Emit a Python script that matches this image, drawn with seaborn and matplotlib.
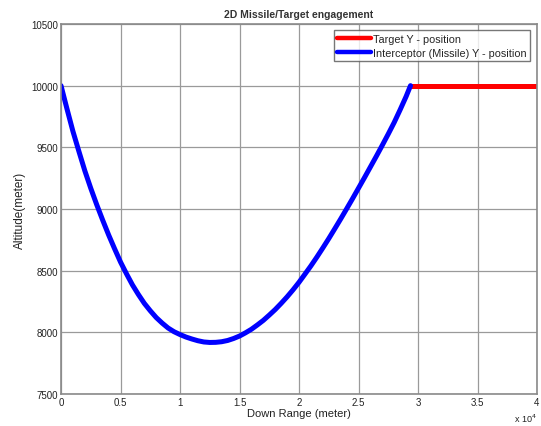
import matplotlib
matplotlib.use("Agg")
import matplotlib.pyplot as plt
import matplotlib.ticker as mticker
import seaborn as sns
import pandas as pd

# Interceptor trajectory: down range (m) and altitude (m)
missile_x = [0, 500, 1000, 1500, 2000, 2500, 3000, 3500, 4000, 4500, 5000,
             5500, 6000, 6500, 7000, 7500, 8000, 8500, 9000, 9500, 10000,
             10500, 11000, 11500, 12000, 12500, 13000, 13500, 14000, 14500,
             15000, 15500, 16000, 16500, 17000, 17500, 18000, 18500, 19000,
             19500, 20000, 20500, 21000, 21500, 22000, 22500, 23000, 23500,
             24000, 24500, 25000, 25500, 26000, 26500, 27000, 27500, 28000,
             28500, 29000, 29370]
missile_y = [10000, 9812, 9630, 9468, 9310, 9168, 9035, 8910, 8790, 8678, 8570,
             8475, 8385, 8307, 8235, 8175, 8120, 8075, 8035, 8005, 7982,
             7962, 7946, 7932, 7922, 7918, 7919, 7924, 7934, 7950,
             7970, 7996, 8025, 8060, 8097, 8140, 8185, 8235, 8288,
             8345, 8406, 8472, 8539, 8610, 8684, 8760, 8839, 8919,
             9001, 9084, 9169, 9254, 9341, 9428, 9517, 9608, 9702,
             9805, 9912, 10000]

# Target trajectory
target_x = [29370, 40000]
target_y = [10000, 10000]

series_names = ["Target Y - position", "Interceptor (Missile) Y - position"]
series_colors = ["#ff0000", "#0000ff"]

y_ticks = [7500, 8000, 8500, 9000, 9500, 10000, 10500]
x_ticks = [0, 5000, 10000, 15000, 20000, 25000, 30000, 35000, 40000]

df = pd.concat([
    pd.DataFrame({"x": target_x, "y": target_y, "series": series_names[0]}),
    pd.DataFrame({"x": missile_x, "y": missile_y, "series": series_names[1]}),
], ignore_index=True)

sns.set_style("whitegrid")
plt.rcParams["font.family"] = ["Liberation Sans", "DejaVu Sans"]

fig = plt.figure(figsize=(5.41, 4.27), dpi=100)
ax = fig.add_axes([0.1128, 0.0749, 0.8798, 0.8666])

sns.lineplot(data=df, x="x", y="y", hue="series", palette=series_colors,
             hue_order=series_names, sort=False, estimator=None,
             linewidth=3.6, ax=ax)
for ln in ax.get_lines():
    ln.set_solid_joinstyle("round")
    ln.set_solid_capstyle("round")

ax.set_xlim(0, 40000)
ax.set_ylim(7500, 10500)
ax.set_xticks(x_ticks)
ax.set_yticks(y_ticks)
ax.xaxis.set_major_formatter(mticker.FuncFormatter(lambda v, p: f"{v/1e4:g}"))
ax.tick_params(axis="both", labelsize=7, colors="#222222", direction="in",
               length=3, pad=2)

ax.grid(True, color="#9a9a9a", linewidth=0.9, linestyle="-")
for s in ax.spines.values():
    s.set_color("#8a8a8a")
    s.set_linewidth(1.2)

ax.set_title("2D Missile/Target engagement", fontsize=7.5, fontweight="bold",
             color="#333333", pad=5)
ax.set_xlabel("Down Range (meter)", fontsize=8, color="#222222", labelpad=1)
ax.set_ylabel("Altitude(meter)", fontsize=8.5, color="#222222", labelpad=4)
ax.text(1.0, -0.065, r"x 10$^4$", transform=ax.transAxes, fontsize=6.5,
        color="#222222", ha="right", va="center")

leg = ax.legend(loc="upper right", fontsize=7.8, frameon=True, fancybox=False,
                borderaxespad=0.6, handlelength=3.1, handletextpad=0.2,
                borderpad=0.35, labelspacing=0.3)
leg.get_frame().set_edgecolor("#555555")
leg.get_frame().set_linewidth(1.0)
for line in leg.get_lines():
    line.set_linewidth(3.2)

fig.savefig("out.png", dpi=100)
